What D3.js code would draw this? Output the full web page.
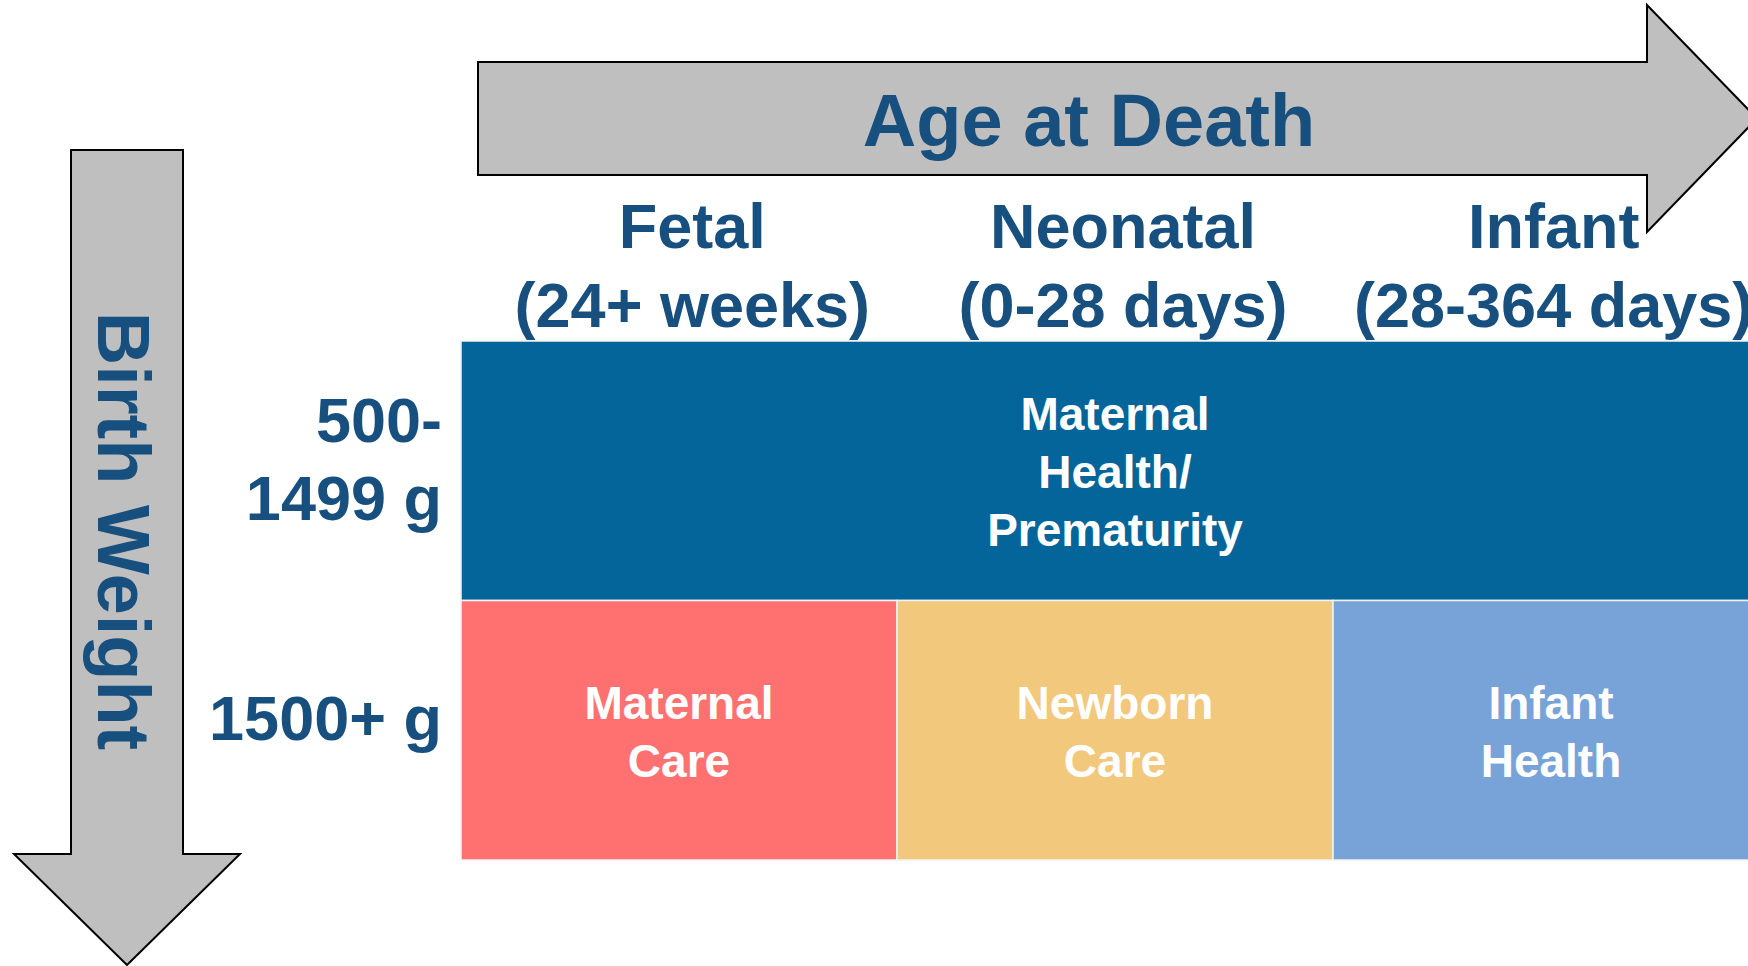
<!DOCTYPE html>
<html>
<head>
<meta charset="utf-8">
<script src="https://cdn.jsdelivr.net/npm/d3@7"></script>
<style>
  body { margin: 0; background: #fff; }
  text { font-family: "Liberation Sans", Arial, sans-serif; font-weight: bold; }
</style>
</head>
<body>
<svg id="chart" width="1748" height="966"></svg>
<script>
// columns across the top (age at death)
let ageGroups = ["Fetal", "Neonatal", "Infant"];
let ageRanges = ["(24+ weeks)", "(0-28 days)", "(28-364 days)"];

// rows down the side (birth weight)
let weightGroups = ["low", "normal"];
let weightLabels = [["500-", "1499 g"], ["1500+ g"]];

// cells: row, first column, number of columns spanned
let cellRows = ["low", "normal", "normal", "normal"];
let cellStart = ["Fetal", "Fetal", "Neonatal", "Infant"];
let cellSpan = [3, 1, 1, 1];
let cellLabels = [["Maternal", "Health/", "Prematurity"], ["Maternal", "Care"], ["Newborn", "Care"], ["Infant", "Health"]];
let cellColors = ["#036599", "#ff7171", "#f2c87c", "#77a3d8"];

const textBlue = "#174f7e";
const svg = d3.select("#chart");

let xScale = d3.scaleBand().domain(ageGroups).range([461, 1769]);
let headScale = d3.scaleBand().domain(ageGroups).range([477, 1769]);
let yScale = d3.scaleBand().domain(weightGroups).range([341, 860]);

// arrows
svg.append("path")
  .attr("d", "M478,62 H1647 V5 L1757,118.5 L1647,232 V175 H478 Z")
  .attr("fill", "#bfbfbf").attr("stroke", "#000").attr("stroke-width", 2);

svg.append("path")
  .attr("d", "M71,150 H183 V854 H240 L127,965 L14,854 H71 Z")
  .attr("fill", "#bfbfbf").attr("stroke", "#000").attr("stroke-width", 2);

svg.append("text")
  .attr("x", 1089).attr("y", 146)
  .attr("text-anchor", "middle")
  .attr("font-size", 74)
  .attr("fill", textBlue)
  .text("Age at Death");

svg.append("text")
  .attr("transform", "translate(98,531) rotate(90)")
  .attr("text-anchor", "middle")
  .attr("font-size", 74)
  .attr("fill", textBlue)
  .text("Birth Weight");

// column headers
let headers = svg.append("g").selectAll("text")
  .data(ageGroups)
  .join("text")
  .attr("text-anchor", "middle")
  .attr("font-size", 63)
  .attr("fill", textBlue);

headers.append("tspan")
  .attr("x", d => headScale(d) + headScale.bandwidth() / 2)
  .attr("y", 248)
  .text(d => d);

headers.append("tspan")
  .attr("x", d => headScale(d) + headScale.bandwidth() / 2)
  .attr("y", 327)
  .text((d, i) => ageRanges[i]);

// row labels
svg.append("g").selectAll("text")
  .data(weightGroups)
  .join("text")
  .attr("text-anchor", "end")
  .attr("font-size", 63)
  .attr("fill", textBlue)
  .each(function(d, i) {
    let lines = weightLabels[i];
    let cy = yScale(d) + yScale.bandwidth() / 2;
    d3.select(this).selectAll("tspan")
      .data(lines)
      .join("tspan")
      .attr("x", 442)
      .attr("y", (l, j) => cy - (lines.length - 1) * 39 + 10 + j * 78)
      .text(l => l);
  });

// cells
let cells = cellRows.map((r, i) => ({
  row: r, col: cellStart[i], span: cellSpan[i], lines: cellLabels[i], color: cellColors[i]
}));

let cellG = svg.append("g").selectAll("g")
  .data(cells)
  .join("g");

cellG.append("rect")
  .attr("x", d => xScale(d.col))
  .attr("y", d => yScale(d.row))
  .attr("width", d => xScale.bandwidth() * d.span)
  .attr("height", yScale.bandwidth())
  .attr("fill", d => d.color)
  .attr("stroke", "#f2f2f2")
  .attr("stroke-width", 1.5);

cellG.append("text")
  .attr("text-anchor", "middle")
  .attr("font-size", 46)
  .attr("fill", "#fff")
  .each(function(d) {
    let cx = d.span === 3 ? xScale("Neonatal") + xScale.bandwidth() / 2 : xScale(d.col) + xScale.bandwidth() / 2;
    let cy = yScale(d.row) + yScale.bandwidth() / 2;
    d3.select(this).selectAll("tspan")
      .data(d.lines)
      .join("tspan")
      .attr("x", cx)
      .attr("y", (l, j) => cy - (d.lines.length - 1) * 29 + 17.5 + j * 58)
      .text(l => l);
  });
</script>
</body>
</html>
